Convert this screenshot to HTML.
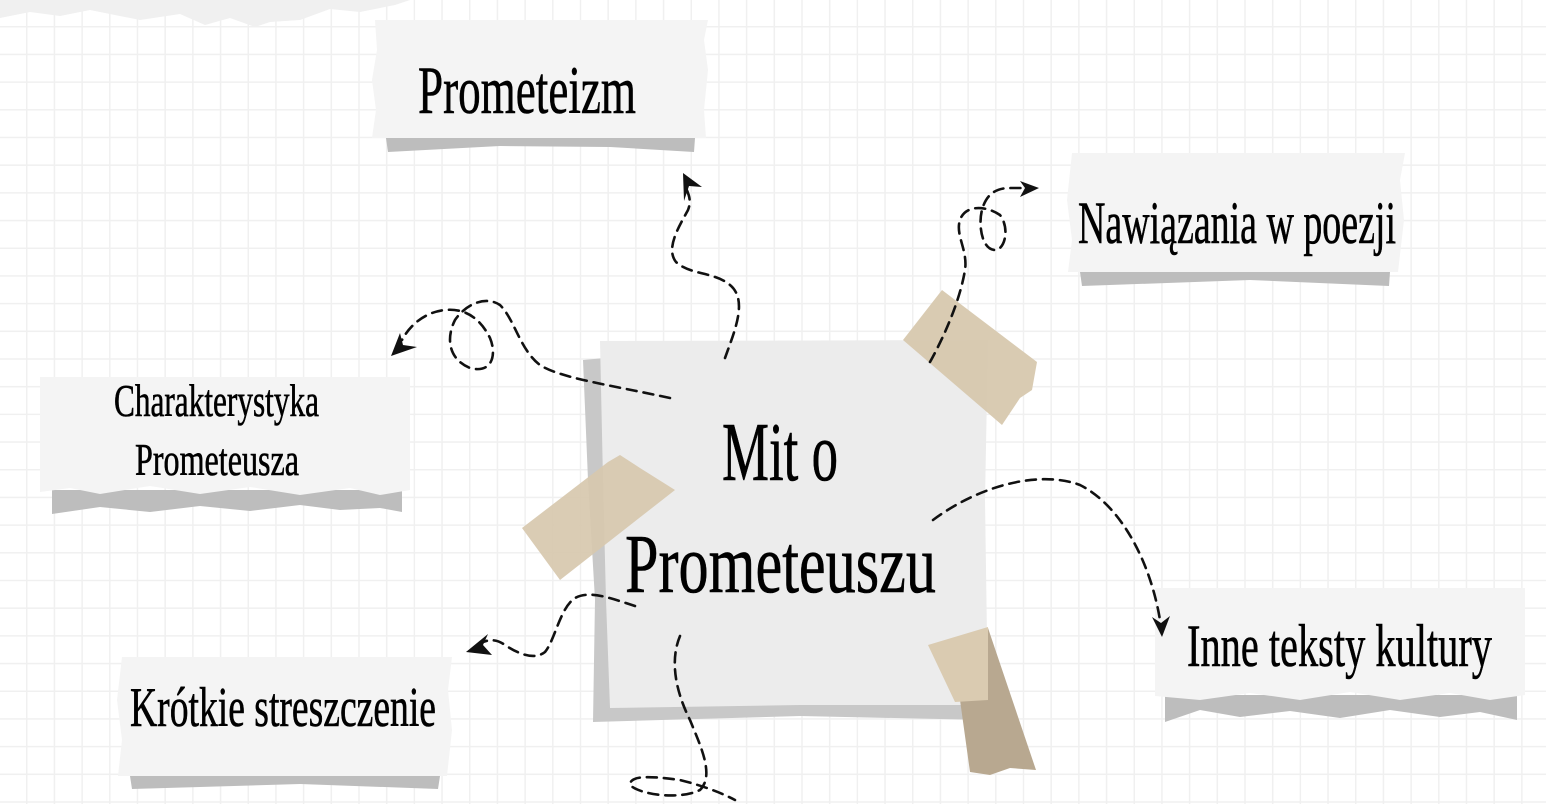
<!DOCTYPE html>
<html><head><meta charset="utf-8"><style>
html,body{margin:0;padding:0;}
body{width:1546px;height:804px;overflow:hidden;background:#fff;
background-image:linear-gradient(#f0f0f0 1.5px,transparent 1.5px),linear-gradient(90deg,#f0f0f0 1.5px,transparent 1.5px);
background-size:27.7px 27.7px;background-position:-1.7px -1.7px;}
svg{position:absolute;left:0;top:0;}
text{font-family:"Liberation Serif",serif;fill:#000;stroke:#000;stroke-width:0.6;}
</style></head><body>
<svg width="1546" height="804" viewBox="0 0 1546 804">
<path d="M0 0 L410 0 L395 5 L360 12 L330 9 L300 20 L270 22 L255 27 L230 18 L205 25 L180 14 L140 20 L90 10 L60 16 L30 12 L0 18 Z" fill="#f0f0f0"/>
<path d="M386 138 L695 138 L694 152 L610 147 L500 146 L388 152 Z" fill="#bdbdbd"/>
<path d="M375 20 L708 20 L704 40 L708 70 L704 110 L706 138 L372 138 L376 110 L372 80 L377 50 Z" fill="#f4f4f4"/>
<text x="418" y="113" font-size="68" textLength="218" lengthAdjust="spacingAndGlyphs">Prometeizm</text>
<path d="M1080 272 L1390 272 L1389 286 L1250 280 L1082 286 Z" fill="#bdbdbd"/>
<path d="M1072 153 L1405 153 L1400 180 L1404 220 L1398 272 L1068 272 L1072 240 L1067 200 Z" fill="#f4f4f4"/>
<text x="1078" y="243" font-size="60" textLength="318" lengthAdjust="spacingAndGlyphs">Nawiązania w poezji</text>
<path d="M52 490 L402 490 L402 512 L380 508 L340 510 L300 505 L250 511 L200 506 L150 512 L100 507 L52 514 Z" fill="#bdbdbd"/>
<path d="M40 377 L410 377 L410 490 L380 495 L350 488 L300 495 L250 487 L200 494 L150 486 L100 494 L70 488 L40 492 Z" fill="#f4f4f4"/>
<text x="114" y="416" font-size="46" textLength="205" lengthAdjust="spacingAndGlyphs">Charakterystyka</text>
<text x="135" y="475" font-size="46" textLength="164" lengthAdjust="spacingAndGlyphs">Prometeusza</text>
<path d="M130 776 L440 776 L438 789 L300 784 L132 789 Z" fill="#bdbdbd"/>
<path d="M122 657 L452 657 L448 690 L452 730 L447 776 L118 776 L122 740 L117 700 Z" fill="#f4f4f4"/>
<text x="130" y="726" font-size="56" textLength="306" lengthAdjust="spacingAndGlyphs">Krótkie streszczenie</text>
<path d="M1165 695 L1517 695 L1517 720 L1480 712 L1440 717 L1390 710 L1340 718 L1290 711 L1240 717 L1200 710 L1165 722 Z" fill="#bdbdbd"/>
<path d="M1155 588 L1525 588 L1525 695 L1490 700 L1450 693 L1400 700 L1350 692 L1300 700 L1250 693 L1200 700 L1155 696 Z" fill="#f4f4f4"/>
<text x="1187" y="666" font-size="60" textLength="305" lengthAdjust="spacingAndGlyphs">Inne teksty kultury</text>
<path d="M583 360 L605 358 L610 700 L985 705 L985 720 L800 716 L593 722 L595 600 L588 480 Z" fill="#c8c8c8"/>
<path d="M600 341 L988 340 L985 500 L988 705 L800 705 L610 708 L606 600 L603 480 Z" fill="#ececec"/>
<text x="722" y="480" font-size="84" textLength="116" lengthAdjust="spacingAndGlyphs">Mit o</text>
<text x="625" y="592" font-size="84" textLength="311" lengthAdjust="spacingAndGlyphs">Prometeuszu</text>
<path d="M903 340 L942 290 L1037 362 L1032 390 L1020 398 L1002 425 Z" fill="#d7c8ae" opacity="0.95"/>
<path d="M522 528 L608 462 L620 455 L640 468 L675 490 L560 580 Z" fill="#d7c8ae" opacity="0.92"/>
<path d="M960 700 L988 700 L988 628 L1036 770 L1010 768 L990 775 L970 772 Z" fill="#b8a890"/>
<path d="M928 645 L988 627 L988 700 L955 702 Z" fill="#dacbb1"/>
<g fill="none" stroke="#111" stroke-width="2.6" stroke-dasharray="10 7" stroke-linecap="round">
<path d="M725 358 C735 330 748 300 730 285 C715 272 690 275 676 262 C665 248 680 225 688 210 C692 200 688 193 686 188"/>
<path d="M930 362 C945 335 960 300 965 270 C968 250 955 235 960 220 C965 205 985 205 1000 215 C1010 228 1005 250 995 250 C982 250 978 225 982 210 C986 195 995 188 1010 188 L1025 188"/>
<path d="M670 398 C610 385 560 378 540 365 C520 350 515 320 500 305 C485 295 465 305 455 320 C445 340 450 360 470 368 C492 374 497 355 490 338 C480 318 465 308 445 310 C425 312 410 325 402 340"/>
<path d="M635 606 C610 598 590 590 575 598 C560 608 555 640 545 652 C535 660 520 655 505 645 C495 638 488 640 480 643"/>
<path d="M933 520 C980 485 1040 470 1080 485 C1120 505 1150 560 1160 620"/>
<path d="M680 636 C670 660 675 690 690 720 C700 745 715 775 700 790 C680 800 640 795 630 785 C630 775 650 776 680 780 C700 785 720 792 735 800"/>
</g>
<g fill="#111">
<path d="M683 173 L702 187 L689 186 L684 201 Z"/>
<path d="M1039 188 L1020 181 L1025 188 L1020 197 Z"/>
<path d="M391 356 L400 333 L403 345 L417 347 Z"/>
<path d="M466 652 L488 634 L483 645 L492 655 Z"/>
<path d="M1162 637 L1152 617 L1161 623 L1170 616 Z"/>
</g>
</svg>
</body></html>
